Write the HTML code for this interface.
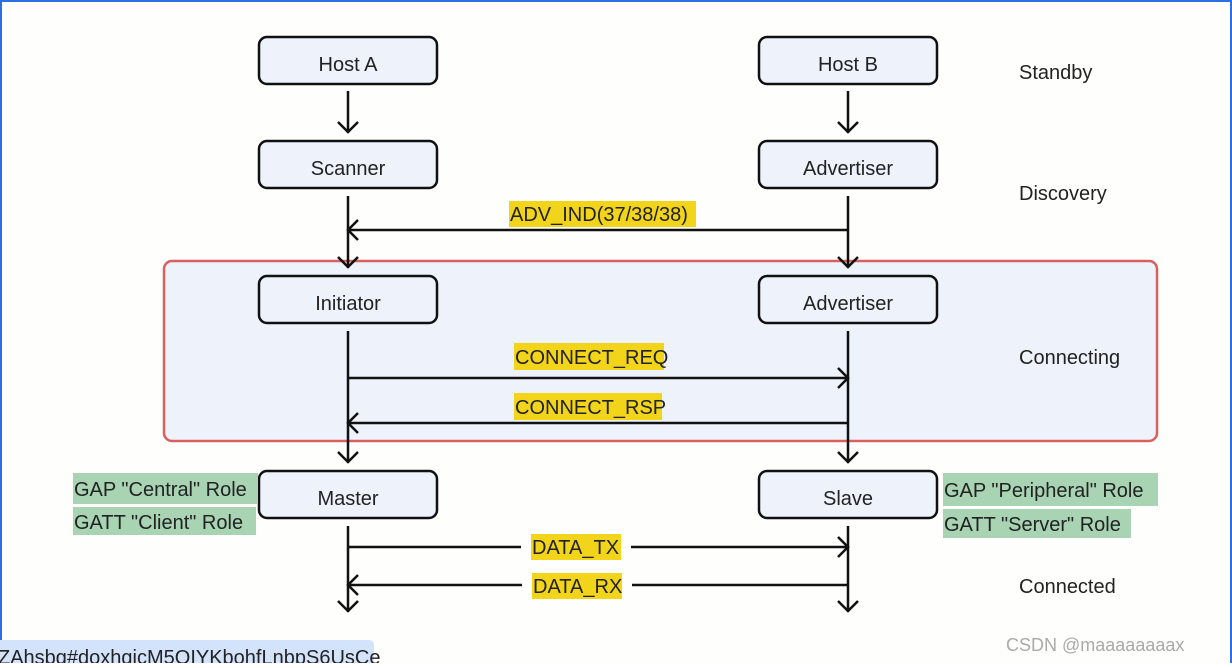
<!DOCTYPE html>
<html><head><meta charset="utf-8"><style>
body{margin:0;width:1232px;height:663px;overflow:hidden;background:#fff;font-family:"Liberation Sans","Noto Sans CJK SC",sans-serif}
</style></head><body>
<svg width="1232" height="663" xmlns="http://www.w3.org/2000/svg" font-family="Liberation Sans, Noto Sans CJK SC, sans-serif">
<rect x="0" y="0" width="1232" height="663" fill="#fefefd"/>
<line x1="0" y1="1" x2="1232" y2="1" stroke="#2f6fe4" stroke-width="2"/>
<line x1="1" y1="0" x2="1" y2="663" stroke="#2f6fe4" stroke-width="2"/>
<line x1="1231" y1="0" x2="1231" y2="663" stroke="#2f6fe4" stroke-width="2"/>
<rect x="164" y="261" width="993" height="180" rx="8" fill="#eef2fb" stroke="#d9605e" stroke-width="2.5"/>
<g fill="#eef2fb" stroke="#111" stroke-width="2.5">
<rect x="259" y="37" width="178" height="47" rx="8"/>
<rect x="259" y="141" width="178" height="47" rx="8"/>
<rect x="259" y="276" width="178" height="47" rx="8"/>
<rect x="259" y="471" width="178" height="47" rx="8"/>
<rect x="759" y="37" width="178" height="47" rx="8"/>
<rect x="759" y="141" width="178" height="47" rx="8"/>
<rect x="759" y="276" width="178" height="47" rx="8"/>
<rect x="759" y="471" width="178" height="47" rx="8"/>
</g>
<g font-size="20" fill="#222" text-anchor="middle">
<text x="348" y="71">Host A</text><text x="348" y="175">Scanner</text>
<text x="348" y="310">Initiator</text><text x="348" y="505">Master</text>
<text x="848" y="71">Host B</text><text x="848" y="175">Advertiser</text>
<text x="848" y="310">Advertiser</text><text x="848" y="505">Slave</text>
</g>
<g stroke="#111" stroke-width="2.5" fill="none">
<path d="M348 91V133M338 122L348 132L358 122"/>
<path d="M848 91V133M838 122L848 132L858 122"/>
<path d="M348 196V268M338 257L348 267L358 257"/>
<path d="M848 196V268M838 257L848 267L858 257"/>
<path d="M848 230H348M358 220L348 230L358 240"/>
<path d="M348 331V463M338 452L348 462L358 452"/>
<path d="M848 331V463M838 452L848 462L858 452"/>
<path d="M348 378H848M838 368L848 378L838 388"/>
<path d="M848 423H348M358 413L348 423L358 433"/>
<path d="M348 526V612M338 601L348 611L358 601"/>
<path d="M848 526V612M838 601L848 611L858 601"/>
<path d="M348 547H848M838 537L848 547L838 557"/>
<path d="M848 585H348M358 575L348 585L358 595"/>
</g>
<g fill="#f2d51a">
<rect x="509" y="201" width="187" height="26"/>
<rect x="514" y="343" width="150" height="27"/>
<rect x="514" y="393" width="148" height="27"/>
<rect x="531" y="534" width="90" height="26"/>
<rect x="532" y="573" width="90" height="26"/>
</g>
<rect x="521" y="534" width="10" height="26" fill="#fefefd"/><rect x="621" y="534" width="10" height="26" fill="#fefefd"/>
<rect x="522" y="573" width="10" height="26" fill="#fefefd"/><rect x="622" y="573" width="10" height="26" fill="#fefefd"/>
<g font-size="20" fill="#222">
<text x="510" y="221">ADV_IND(37/38/38)</text>
<text x="515" y="364">CONNECT_REQ</text>
<text x="515" y="414">CONNECT_RSP</text>
<text x="532" y="554">DATA_TX</text>
<text x="533" y="593">DATA_RX</text>
</g>
<g fill="#a8d4b4">
<rect x="73" y="473" width="185" height="31"/><rect x="73" y="507" width="183" height="28"/>
<rect x="943" y="473" width="215" height="33"/><rect x="943" y="509" width="188" height="29"/>
</g>
<g font-size="20" fill="#222">
<text x="74" y="496">GAP "Central" Role</text>
<text x="74" y="529">GATT "Client" Role</text>
<text x="944" y="497">GAP "Peripheral" Role</text>
<text x="944" y="531">GATT "Server" Role</text>
<text x="1019" y="79">Standby</text>
<text x="1019" y="200">Discovery</text>
<text x="1019" y="364">Connecting</text>
<text x="1019" y="593">Connected</text>
</g>
<rect x="-5" y="640" width="379" height="30" rx="5" fill="#d3e3fb"/>
<text x="-2" y="664" font-size="20" fill="#222">ZAhsbg#doxhgicM5QIYKbohfLnbpS6UsCe</text>
<text x="1006" y="651" font-size="18" fill="#aaa">CSDN @maaaaaaaax</text>
</svg>
</body></html>
